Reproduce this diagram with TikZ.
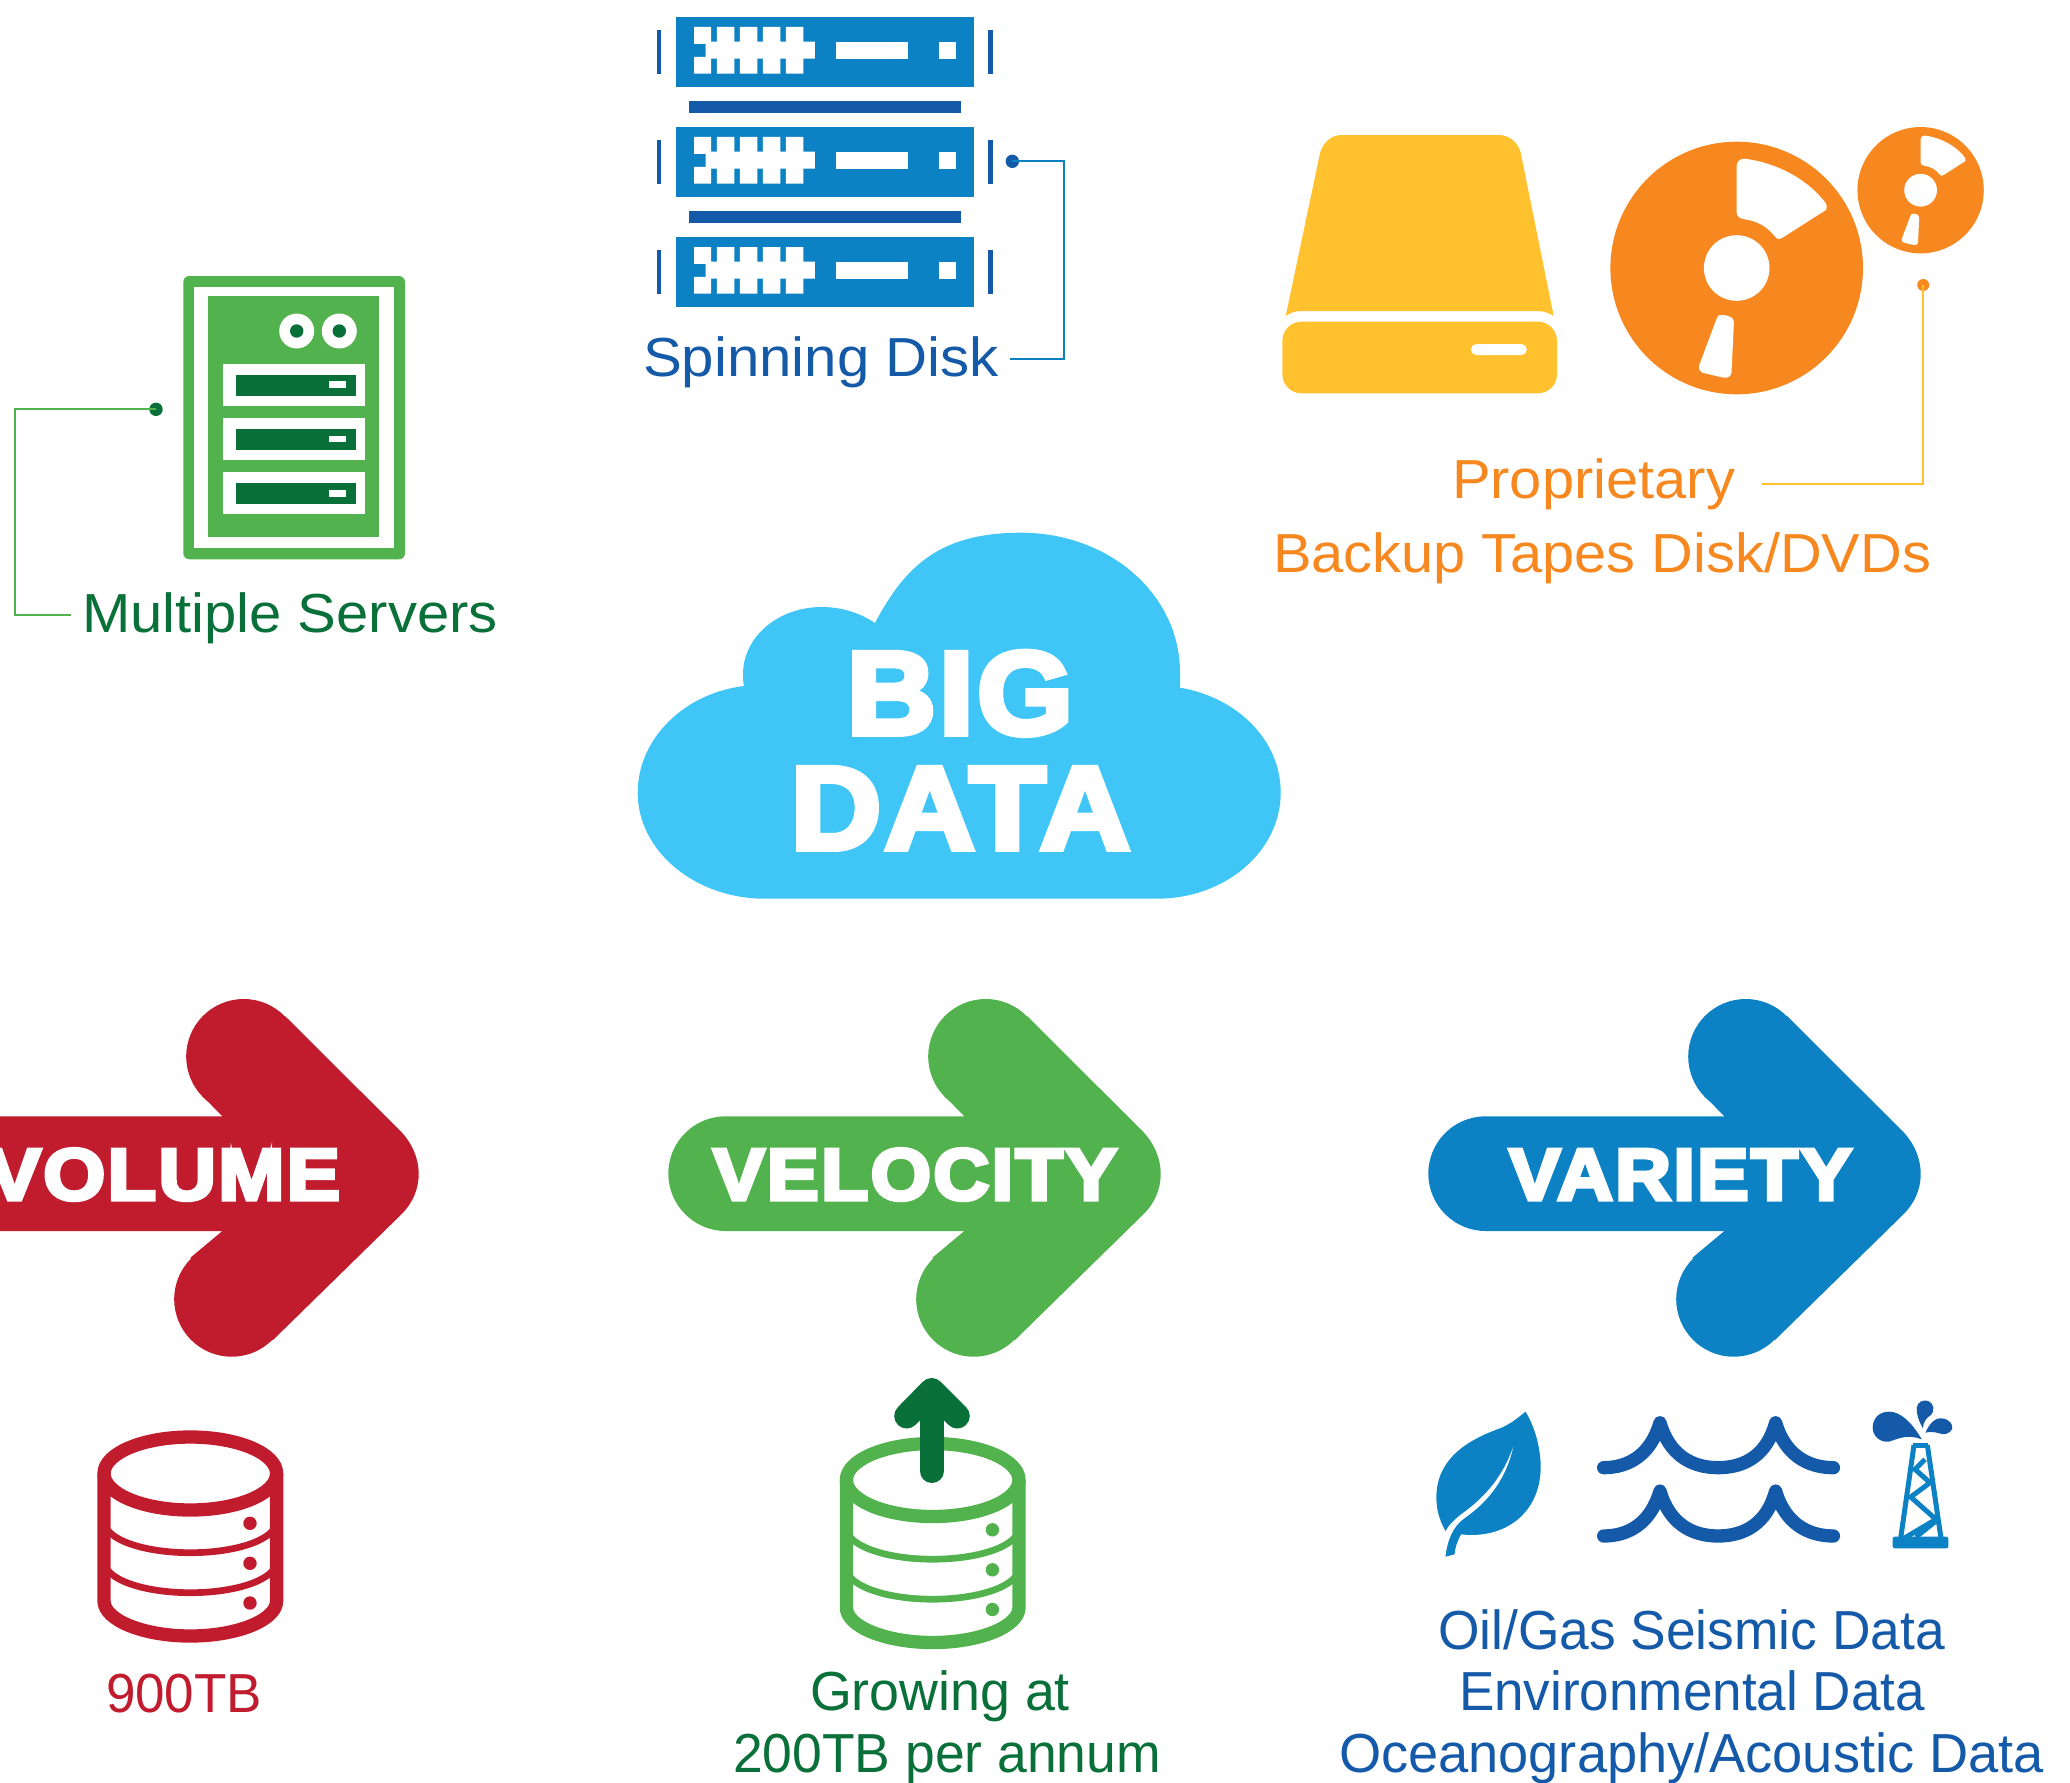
\documentclass[tikz,border=0pt]{standalone}
\usepackage{fontspec}
\usepackage{graphicx}
\setmainfont{Liberation Sans}
\newfontfamily\heavyfont[FakeBold=5,LetterSpace=3]{Liberation Sans Bold}
\definecolor{cred}{HTML}{C11B2E}
\definecolor{cgreen}{HTML}{52B24D}
\definecolor{cdgreen}{HTML}{0A7039}
\definecolor{cblue}{HTML}{0C82C5}
\definecolor{cdblue}{HTML}{155AA8}
\definecolor{corange}{HTML}{F7881F}
\definecolor{cyellow}{HTML}{FFC12D}
\definecolor{ccloud}{HTML}{3FC6F7}
\tikzset{
  lbl/.style={anchor=base west,inner sep=0pt,outer sep=0pt,font=\fontsize{55}{60}\selectfont},
  hv/.style={anchor=base west,inner sep=0pt,outer sep=0pt,text=white},
  dotnode/.style={circle,inner sep=0pt,outer sep=0pt,minimum size=13.4pt},
  conn/.style={line width=2pt},
}
\newcommand{\fitw}[2]{\resizebox{#1pt}{\height}{#2}}
\newcommand{\bigarrow}[3]{%
 \begin{scope}[shift={(#1,0)}]
  \fill[#2] (725.6,1115.3) -- (964.4,1115.3) -- (944.4,1095) -- (1027,1015) -- (1142.4,1130)
     .. controls (1154,1142) and (1160.7,1157) .. (1160.7,1173)
     .. controls (1160.7,1189) and (1154,1203) .. (1143,1213.7)
     -- (1015,1339) -- (932.4,1256.7) -- (964.4,1230) -- (725.6,1230)
     .. controls (694,1230) and (668.3,1204) .. (668.3,1172.6)
     .. controls (668.3,1141) and (694,1115.3) .. (725.6,1115.3) -- cycle;
  \fill[#2] (985.7,1055.5) circle[radius=57.5pt];
  \fill[#2] (973.7,1298.2) circle[radius=57.5pt];
 \end{scope}}
\newcommand{\dbicon}[3]{%
 \begin{scope}[shift={(#1,#2)},#3,line width=13.3pt]
  \draw (190.3,1472.5) ellipse[x radius=86.3pt,y radius=36.5pt];
  \draw (104,1472.5) -- (104,1600) .. controls (104,1619) and (143,1635) .. (190.3,1635)
     .. controls (237.6,1635) and (276.6,1619) .. (276.6,1600) -- (276.6,1472.5);
  \draw[line width=6.7pt] (104,1520) .. controls (104,1538) and (143,1551.7) .. (190.3,1551.7)
     .. controls (237.6,1551.7) and (276.6,1538) .. (276.6,1520);
  \draw[line width=6.7pt] (104,1560) .. controls (104,1578) and (143,1591.7) .. (190.3,1591.7)
     .. controls (237.6,1591.7) and (276.6,1578) .. (276.6,1560);
  \fill (250,1522.3) circle[radius=6.7pt];
  \fill (250,1562.3) circle[radius=6.7pt];
  \fill (250,1602) circle[radius=6.7pt];
 \end{scope}}
\newcommand{\reel}[3]{% centre, scale
 \begin{scope}[shift={(#1,#2)},x=#3pt,y=-#3pt]
  \fill[corange] (0,0) circle[radius=#3*126.3pt];
  \fill[white] (0,0) circle[radius=#3*32.8pt];
  \fill[white] (0,-102) .. controls (0,-106) and (3,-109.5) .. (8,-109.3)
     .. controls (41,-105) and (69,-89) .. (85.9,-68.7)
     .. controls (90,-65) and (91,-60) .. (89.2,-58) -- (45.8,-30.3)
     .. controls (42,-28) and (39.5,-29) .. (38.7,-31)
     .. controls (30,-42) and (20,-47) .. (8,-48.7)
     .. controls (3,-49) and (0,-52) .. (0,-55.3) -- cycle;
  \fill[white] (-20.3,51.3) .. controls (-19,47) and (-16,46) .. (-13.2,47)
     .. controls (-6,48) and (-2.8,50) .. (-2.8,54.7) -- (-5.2,104.7)
     .. controls (-5.5,108) and (-9,110.5) .. (-13.2,109.7) -- (-34.4,104.7)
     .. controls (-37,103) and (-38.5,101) .. (-37.8,98) -- cycle;
 \end{scope}}
\newcommand{\srvunit}[1]{%
 \begin{scope}[shift={(640,#1)},x=.3333pt,y=-.3333pt]
  \fill[cblue] (107,48) rectangle (1003,258);
  \fill[white] (162,78) -- (213,78) -- (213,122) -- (231,122) -- (231,78) -- (283,78) -- (283,122)
    -- (300,122) -- (300,78) -- (352,78) -- (352,122) -- (369,122) -- (369,78) -- (421,78) -- (421,122)
    -- (438,122) -- (438,78) -- (490,78) -- (490,122) -- (525,122) -- (525,173) -- (490,173) -- (490,218)
    -- (438,218) -- (438,173) -- (421,173) -- (421,218) -- (369,218) -- (369,173) -- (352,173) -- (352,218)
    -- (300,218) -- (300,173) -- (283,173) -- (283,218) -- (231,218) -- (231,173) -- (213,173) -- (213,218)
    -- (162,218) -- (162,168) -- (197,168) -- (197,129) -- (162,129) -- cycle;
  \fill[white] (588,122) rectangle (804,173);
  \fill[white] (896,122) rectangle (947,173);
  \fill[cdblue] (50,88) rectangle (63,220);
  \fill[cdblue] (1045,88) rectangle (1059,220);
 \end{scope}}
\begin{document}
\begin{tikzpicture}[x=1pt,y=-1pt]
\useasboundingbox (0,0) rectangle (2070,1783);
\begin{scope}[yshift=-1pt]
% ---- spinning disk
\srvunit{0}\srvunit{110}\srvunit{220}
\fill[cdblue] (689,100) rectangle (961,112.3);
\fill[cdblue] (689,210) rectangle (961,222.3);
\node[dotnode,fill=cdblue] (sdot) at (1012.3,160.3) {};
\coordinate (sc1) at (1063.7,160.3);
\coordinate (sc2) at (1063.7,358.3);
\coordinate (send) at (1010,358.3);
\draw[conn,cblue] (sdot.center) -- (sc1) -- (sc2) -- (send);
\node[lbl,text=cdblue] (spin) at (643,375) {\fitw{356}{Spinning Disk}};
% ---- multiple servers
\fill[cgreen,rounded corners=6pt] (183.3,275) rectangle (405,558.3);
\fill[white] (194,285.7) rectangle (394,547.3);
\fill[cgreen] (207.7,294.7) rectangle (379,535.7);
\foreach \cx in {296.7,339.3}{
  \fill[white] (\cx,330) circle[radius=17.5pt];
  \fill[cdgreen] (\cx,330) circle[radius=6.7pt];
}
\foreach \a/\b/\c/\d/\e/\f in {362.7/405/374.3/395.3/380/386.7,417.3/459.3/428.3/449.3/435/441.3,470.7/513/482.3/503.3/489.3/495.7}{
  \fill[white] (223.3,\a) rectangle (365,\b);
  \fill[cdgreen] (236,\c) rectangle (356,\d);
  \fill[white] (329,\e) rectangle (346,\f);
}
\node[dotnode,fill=cdgreen] (mdot) at (156,408.3) {};
\coordinate (mc1) at (15.3,408.3);
\coordinate (mc2) at (15.3,614);
\coordinate (mend) at (71.3,614);
\draw[conn,cgreen] (mdot.center) -- (mc1) -- (mc2) -- (mend);
\node[lbl,text=cdgreen] (multi) at (82,631.3) {\fitw{416}{Multiple Servers}};
% ---- drive
\fill[cyellow] (1341.3,134) -- (1498.5,134) .. controls (1510,134) and (1518,142) .. (1520.7,151.7)
  -- (1553.7,315) .. controls (1549,312) and (1544,310) .. (1537.2,310) -- (1301.2,310)
  .. controls (1295,310) and (1290,312) .. (1285.7,315) -- (1320.1,151.7)
  .. controls (1323,142) and (1331,134) .. (1341.3,134) -- cycle;
\fill[cyellow,rounded corners=19pt] (1282.4,320.7) rectangle (1557,392.3);
\fill[white,rounded corners=5.4pt] (1471,343) rectangle (1526.8,354);
% ---- reels
\reel{1736.7}{267}{1}
\reel{1920.6}{189.2}{.5}
\node[dotnode,fill=corange,minimum size=12pt] (pdot) at (1923.2,284) {};
\coordinate (pc1) at (1923.2,483);
\coordinate (pend) at (1762,483);
\draw[conn,cyellow] (pdot.center) -- (pc1) -- (pend);
\node[lbl,text=corange] (prop) at (1452,497) {\fitw{283}{Proprietary}};
\node[lbl,text=corange] (back) at (1273,571) {\fitw{658}{Backup Tapes Disk/DVDs}};
% ---- cloud
\fill[ccloud] (765,897.7) .. controls (695,897.7) and (637.7,850) .. (637.7,791.7)
  .. controls (637.7,737) and (685,692) .. (744,685)
  .. controls (743,681) and (743,677) .. (743,673)
  .. controls (743,636) and (778,606) .. (821.7,606)
  .. controls (842,606) and (860,612) .. (875,622)
  .. controls (905,565) and (940,531.7) .. (1021,531.7)
  .. controls (1108,531.7) and (1180,592) .. (1180,672) -- (1180,686.7)
  .. controls (1236,696) and (1280.7,738) .. (1280.7,791.7)
  .. controls (1280.7,850) and (1226,897.7) .. (1156.7,897.7) -- cycle;
\node[hv,font=\fontsize{118}{130}\heavyfont] (big) at (847,733) {\fitw{226}{BIG}};
\node[hv,font=\fontsize{118}{130}\heavyfont] (data) at (791,848) {\fitw{339}{DATA}};
% ---- arrows
\bigarrow{-742}{cred}{}
\bigarrow{0}{cgreen}{}
\bigarrow{760}{cblue}{}
\node[hv,font=\fontsize{73}{80}\heavyfont,anchor=base east] (vol) at (340,1198.7) {\fitw{352}{VOLUME}};
\node[hv,font=\fontsize{73}{80}\heavyfont] (vel) at (713,1198.7) {\fitw{404}{VELOCITY}};
\node[hv,font=\fontsize{73}{80}\heavyfont] (var) at (1509,1198.7) {\fitw{343}{VARIETY}};
% ---- databases
\dbicon{0}{0}{cred}
\dbicon{742.4}{6.5}{cgreen}
\draw[cdgreen,line width=24pt,line cap=round] (931.7,1470) -- (931.7,1395);
\draw[cdgreen,line width=25pt,line cap=round,line join=round] (906.7,1415) -- (931.7,1389.5) -- (957.3,1415);
\node[lbl,text=cred] (nine) at (106,1711) {\fitw{156}{900TB}};
\node[lbl,text=cdgreen] (grow) at (810,1709) {\fitw{260}{Growing at}};
\node[lbl,text=cdgreen] (rate) at (733,1771) {\fitw{428}{200TB per annum}};
% ---- leaf
\begin{scope}[shift={(1420,1390)},x=.3636pt,y=-.3333pt]
\fill[cblue] (290,62) .. controls (265,85) and (245,100) .. (225,110)
  .. controls (120,150) and (45,210) .. (45,320)
  .. controls (45,360) and (55,390) .. (70,420)
  .. controls (80,400) and (95,385) .. (115,368)
  .. controls (190,310) and (235,240) .. (258,160)
  .. controls (240,260) and (190,330) .. (125,380)
  .. controls (90,405) and (75,450) .. (70,497) -- (95,490)
  .. controls (97,465) and (105,445) .. (113,430)
  .. controls (230,445) and (330,370) .. (332,230)
  .. controls (332,170) and (315,105) .. (290,62) -- cycle;
% waves
\foreach \dy in {0,205}{
 \draw[cdblue,line width=13.3pt,line cap=round,line join=round,shift={(0,\dy)}]
   (505,230) .. controls (575,230) and (635,190) .. (660,95)
   .. controls (685,190) and (745,230) .. (820,230)
   .. controls (895,230) and (955,190) .. (978,95)
   .. controls (1003,190) and (1065,230) .. (1137,230);
}
% splashes
\fill[cdblue] (1380,145) .. controls (1350,90) and (1320,62) .. (1290,62)
  .. controls (1260,62) and (1245,85) .. (1245,110)
  .. controls (1245,135) and (1265,155) .. (1290,152)
  .. controls (1320,140) and (1345,130) .. (1380,145) -- cycle;
\fill[cdblue] (1383,112) .. controls (1372,90) and (1365,70) .. (1366,50)
  .. controls (1368,32) and (1385,25) .. (1398,30)
  .. controls (1412,38) and (1418,55) .. (1405,72)
  .. controls (1392,82) and (1385,90) .. (1383,112) -- cycle;
\fill[cdblue] (1390,125) .. controls (1400,100) and (1415,80) .. (1435,82)
  .. controls (1455,84) and (1468,100) .. (1463,115)
  .. controls (1455,130) and (1440,132) .. (1428,127)
  .. controls (1415,122) and (1400,122) .. (1390,125) -- cycle;
\end{scope}
% ---- oil rig
\begin{scope}[shift={(1880,1430)},x=.3333pt,y=-.3333pt,cblue,line width=5pt,line join=miter]
\draw (100,44) -- (145,44);
\draw (102,42) -- (62,322);
\draw (142,42) -- (183,322);
\draw (135,85) -- (105,115) -- (150,155) -- (92,198) -- (168,265) -- (72,322);
\draw (168,270) -- (108,318);
\fill[rounded corners=2pt] (38,317) rectangle (205,352);
\end{scope}
\node[lbl,text=cdblue] (oil) at (1438,1648) {\fitw{507}{Oil/Gas Seismic Data}};
\node[lbl,text=cdblue] (env) at (1459,1709) {\fitw{466}{Environmental Data}};
\node[lbl,text=cdblue] (oce) at (1339,1771) {\fitw{705}{Oceanography/Acoustic Data}};
\end{scope}
\end{tikzpicture}
\end{document}
